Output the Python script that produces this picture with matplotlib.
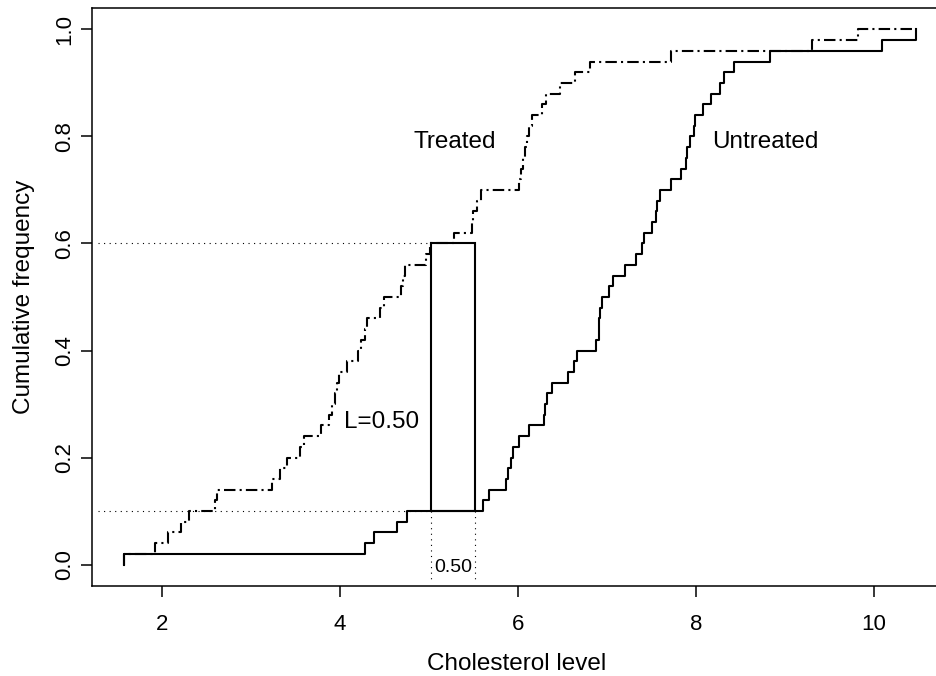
import numpy as np
import matplotlib.pyplot as plt
from matplotlib.patches import Rectangle

plt.rcParams['font.family'] = ['Liberation Sans', 'DejaVu Sans']

# jump points of the two empirical distribution functions (50 obs each)
treated = [1.57, 1.92, 2.06, 2.21, 2.30, 2.59, 2.62, 3.23, 3.32, 3.40,
           3.55, 3.59, 3.79, 3.87, 3.91, 3.94, 3.97, 3.99, 4.08, 4.20,
           4.24, 4.28, 4.30, 4.45, 4.49, 4.69, 4.71, 4.73, 4.97, 5.01,
           5.28, 5.48, 5.50, 5.54, 5.59, 6.01, 6.04, 6.06, 6.08, 6.10,
           6.13, 6.16, 6.27, 6.32, 6.47, 6.64, 6.81, 7.72, 9.31, 9.83]
untreated = [1.57, 4.28, 4.38, 4.64, 4.75, 5.61, 5.675, 5.87, 5.89, 5.92,
             5.94, 6.01, 6.125, 6.29, 6.31, 6.33, 6.38, 6.56, 6.63, 6.66,
             6.88, 6.91, 6.915, 6.92, 6.95, 7.02, 7.07, 7.21, 7.325, 7.40,
             7.42, 7.51, 7.555, 7.57, 7.60, 7.72, 7.84, 7.89, 7.90, 7.94,
             7.98, 7.99, 8.08, 8.17, 8.27, 8.32, 8.43, 8.84, 10.10, 10.48]
x_end = 10.48

# the box marking the largest horizontal gap
box_x = (5.02, 5.52)
box_y = (0.10, 0.60)
gap_label = "0.50"
L_label = "L=0.50"

xticks = [2, 4, 6, 8, 10]
yticks = [0.0, 0.2, 0.4, 0.6, 0.8, 1.0]


def ecdf_path(xs, x_last):
    xs = np.sort(np.asarray(xs))
    levels = np.arange(1, len(xs) + 1) / len(xs)
    return np.r_[xs[0], xs, x_last], np.r_[0.0, levels, 1.0]


fig = plt.figure(figsize=(9.37, 6.76), dpi=100)
ax = fig.add_axes([92 / 937, 1 - 586 / 676, (942 - 92) / 937, (586 - 8) / 676])

xt, yt = ecdf_path(treated, x_end)
xu, yu = ecdf_path(untreated, x_end)
ax.step(xt, yt, where='post', color='black', lw=1.5, linestyle=(0, (5.5, 2, 1, 2)))
ax.step(xu, yu, where='post', color='black', lw=1.5)

# dotted guides
dots = dict(color='black', lw=0.8, linestyle=(0, (1, 4)))
ax.plot([1.28, box_x[0]], [box_y[0], box_y[0]], **dots)
ax.plot([1.28, box_x[0]], [box_y[1], box_y[1]], **dots)
ax.plot([box_x[0], box_x[0]], [box_y[0], -0.033], **dots)
ax.plot([box_x[1], box_x[1]], [box_y[0], -0.033], **dots)

ax.add_patch(Rectangle((box_x[0], box_y[0]), box_x[1] - box_x[0], box_y[1] - box_y[0],
                       fill=False, edgecolor='black', lw=1.5))

ax.text(sum(box_x) / 2, -0.005, gap_label, fontsize=14, ha='center', va='center')
ax.text(4.47, 0.267, L_label, fontsize=17.5, ha='center', va='center')
ax.text(5.29, 0.79, "Treated", fontsize=17.5, ha='center', va='center')
ax.text(8.78, 0.79, "Untreated", fontsize=17.5, ha='center', va='center')

ax.set_xlim(1.21, 10.77)
ax.set_ylim(-0.04, 1.04)
ax.set_xticks(xticks)
ax.set_xticklabels([str(t) for t in xticks])
ax.set_yticks(yticks)
ax.set_yticklabels(["%.1f" % t for t in yticks], rotation=90, va='center')

ax.tick_params(axis='both', direction='out', length=8, width=1.1, labelsize=16, colors='black')
ax.tick_params(axis='x', pad=12)
ax.tick_params(axis='y', pad=4)
for s in ax.spines.values():
    s.set_linewidth(1.1)

ax.set_xlabel("Cholesterol level", fontsize=17.5, labelpad=13)
ax.set_ylabel("Cumulative frequency", fontsize=17.5, labelpad=14)

fig.savefig("out.png", dpi=100)
